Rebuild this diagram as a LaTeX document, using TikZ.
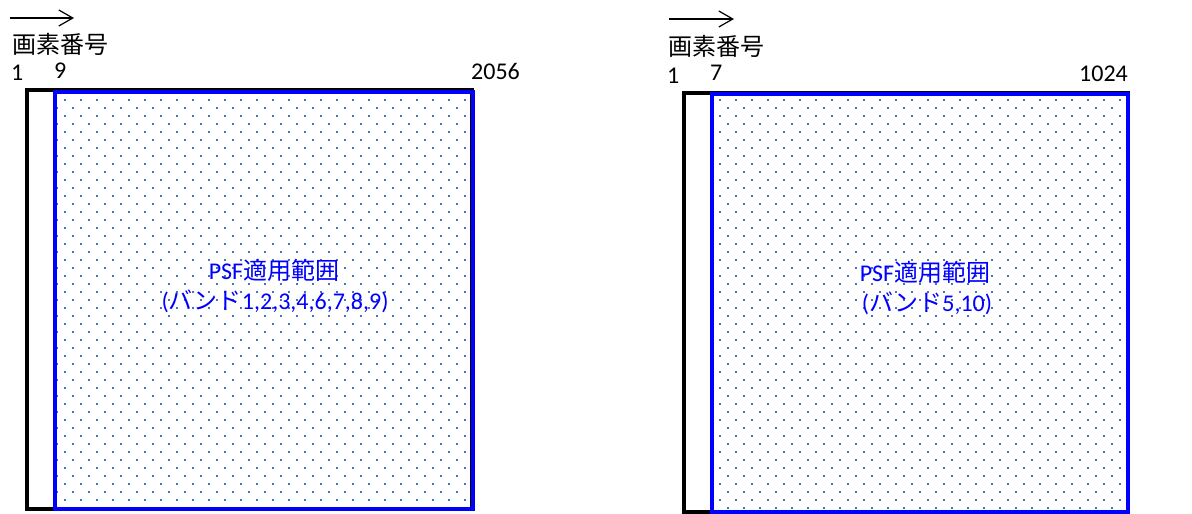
\documentclass[tikz,border=0pt]{standalone}
\usepackage{fontspec}
\setmainfont{Carlito}
\newfontfamily\cjk{Noto Sans CJK JP}
\usetikzlibrary{arrows.meta}
\definecolor{dotblue}{HTML}{4472C4}
\definecolor{pureblue}{HTML}{0000FF}
\tikzset{
  lbl/.style={inner sep=0pt, font=\fontsize{24}{28}\selectfont, text=black},
  bluelbl/.style={inner sep=0pt, font=\fontsize{24}{28}\selectfont, text=pureblue},
  outerbox/.style={draw=black, line width=4pt},
  innerbox/.style={draw=pureblue, line width=4pt},
  dirarrow/.style={line width=1.2pt, -{Straight Barb[length=14pt,width=16pt]}},
  dotsq/.style={fill=dotblue}
}
\begin{document}
\begin{tikzpicture}[x=1pt,y=-1pt]
\useasboundingbox (0,0) rectangle (1192,514);
% ---------- left diagram ----------
\coordinate (la1) at (10,18);
\coordinate (la2) at (74,18);
\draw[dirarrow] (la1) -- (la2);
\node[lbl, anchor=west] (lpx) at (12,44) {\cjk 画素番号};
\node[lbl, anchor=base west] (l1) at (11,80) {1};
\node[lbl, anchor=base west] (l9) at (54,78) {9};
\node[lbl, anchor=base west] (l2056) at (471,79) {2056};
\begin{scope}
  \clip (57,93.5) rectangle (470.5,507);
  \foreach \r in {0,...,51}{
    \pgfmathsetmacro{\yy}{100+8*\r}
    \pgfmathsetmacro{\xo}{65+8*mod(\r,2)}
    \foreach \c in {-1,...,26}{
      \fill[dotsq] (\xo+16*\c-1,\yy-1) rectangle ++(2,2);
    }
  }
\end{scope}
\draw[outerbox] (27,90) rectangle (472,509);
\draw[innerbox] (55,91.5) rectangle (472.5,509);
\node[bluelbl, anchor=base] (lt1) at (274,279) {PSF{\cjk 適用範囲}};
\node[bluelbl, anchor=base] (lt2) at (275,309) {({\cjk バンド}1,2,3,4,6,7,8,9)};
% ---------- right diagram ----------
\coordinate (ra1) at (669,19);
\coordinate (ra2) at (734,19);
\draw[dirarrow] (ra1) -- (ra2);
\node[lbl, anchor=west] (rpx) at (668,46) {\cjk 画素番号};
\node[lbl, anchor=base west] (r1) at (667,83) {1};
\node[lbl, anchor=base west] (r7) at (710,80) {7};
\node[lbl, anchor=base west] (r1024) at (1079,81) {1024};
\begin{scope}
  \clip (714,95) rectangle (1126,510);
  \foreach \r in {0,...,52}{
    \pgfmathsetmacro{\yy}{100+8*\r}
    \pgfmathsetmacro{\xo}{720+8*mod(\r,2)}
    \foreach \c in {-1,...,26}{
      \fill[dotsq] (\xo+16*\c-1,\yy-1) rectangle ++(2,2);
    }
  }
\end{scope}
\draw[outerbox] (684,93) rectangle (1128,512);
\draw[innerbox] (712,93.5) rectangle (1128,512);
\node[bluelbl, anchor=base] (rt1) at (925,281) {PSF{\cjk 適用範囲}};
\node[bluelbl, anchor=base] (rt2) at (927,311) {({\cjk バンド}5,10)};
\end{tikzpicture}
\end{document}
